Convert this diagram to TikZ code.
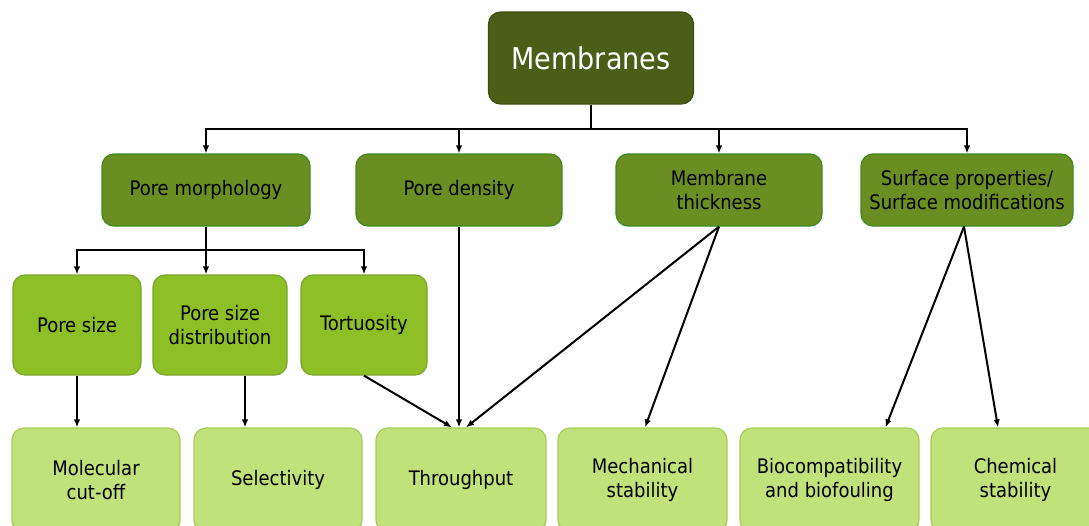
\documentclass[tikz,border=0pt]{standalone}
\usepackage{fontspec}
\setmainfont{DejaVu Sans Condensed}
\usetikzlibrary{arrows.meta,calc}
\definecolor{lvA}{HTML}{4B5E17}
\definecolor{lvAb}{HTML}{3E4F12}
\definecolor{lvB}{HTML}{6B8E23}
\definecolor{lvBb}{HTML}{3D8A1C}
\definecolor{lvC}{HTML}{8DBF26}
\definecolor{lvCb}{HTML}{7AA528}
\definecolor{lvD}{HTML}{C1E17A}
\definecolor{lvDb}{HTML}{A6CC55}
\tikzset{
  box/.style={rectangle, rounded corners=12pt, align=center, line width=1.2pt,
    inner sep=0pt, font=\fontsize{20}{24}\selectfont, text=black},
  topbox/.style={box, fill=lvA, draw=lvAb, text=white, font=\fontsize{30}{36}\selectfont,
    minimum width=205pt, minimum height=92pt},
  midbox/.style={box, fill=lvB, draw=lvBb, minimum height=72pt},
  subbox/.style={box, fill=lvC, draw=lvCb, minimum height=100pt},
  outbox/.style={box, fill=lvD, draw=lvDb, minimum height=104pt},
  conn/.style={line width=2pt, draw=black},
  arr/.style={conn, -{Latex[length=8pt,width=6.5pt]}}
}
\begin{document}
\begin{tikzpicture}[x=1pt,y=-1pt]
\useasboundingbox (0,0) rectangle (1089,525);
\clip (0,0) rectangle (1089,525);
% nodes
\node[topbox] (M) at (591,58) {Membranes};
\node[midbox, minimum width=208pt] (PM) at (206,190) {Pore morphology};
\node[midbox, minimum width=206pt] (PD) at (459,190) {Pore density};
\node[midbox, minimum width=206pt] (MT) at (719,190) {Membrane\\thickness};
\node[midbox, minimum width=212pt] (SP) at (967,190) {Surface properties/\\Surface modifications};
\node[subbox, minimum width=128pt] (PS) at (77,325) {Pore size};
\node[subbox, minimum width=134pt] (PSD) at (220,325) {Pore size\\distribution};
\node[subbox, minimum width=126pt] (TO) at (364,325) {Tortuosity};
\node[outbox, minimum width=168pt] (MC) at (96,480) {Molecular\\cut-off};
\node[outbox, minimum width=168pt] (SE) at (278,480) {Selectivity};
\node[outbox, minimum width=170pt] (TH) at (461,480) {Throughput};
\node[outbox, minimum width=169pt] (ME) at (642.5,480) {Mechanical\\stability};
\node[outbox, minimum width=179pt] (BI) at (829.5,480) {Biocompatibility\\and biofouling};
\node[outbox, minimum width=169pt] (CH) at (1015.5,480) {Chemical\\stability};
% top bus
\coordinate (bus) at (591,129);
\draw[conn] (M.south) -- (bus);
\draw[arr] (bus) -| (PM.north);
\draw[arr] (bus) -| (PD.north);
\draw[arr] (bus) -| (MT.north);
\draw[arr] (bus) -| (SP.north);
% pore morphology bus
\coordinate (pmbus) at (206,250);
\draw[conn] (PM.south) -- (pmbus);
\draw[arr] (pmbus) -| (PS.north);
\draw[arr] (pmbus) -- (pmbus |- PSD.north);
\draw[arr] (pmbus) -| (TO.north);
% level 3 to outputs
\draw[arr] (PS.south) -- (PS.south |- MC.north);
\coordinate (psdout) at ($(PSD.south)+(25,0)$);
\draw[arr] (psdout) -- (psdout |- SE.north);
\draw[arr] (TO.south) -- ($(TH.north)+(-9,0)$);
\draw[arr] (PD.south) -- (PD.south |- TH.north);
\draw[arr] (MT.south) -- ($(TH.north)+(5,0)$);
\draw[arr] (MT.south) -- ($(ME.north)+(2.5,0)$);
\coordinate (spout) at ($(SP.south)+(-3,0)$);
\draw[arr] (spout) -- ($(BI.north)+(56,0)$);
\draw[arr] (spout) -- ($(CH.north)+(-17.5,0)$);
\end{tikzpicture}
\end{document}
